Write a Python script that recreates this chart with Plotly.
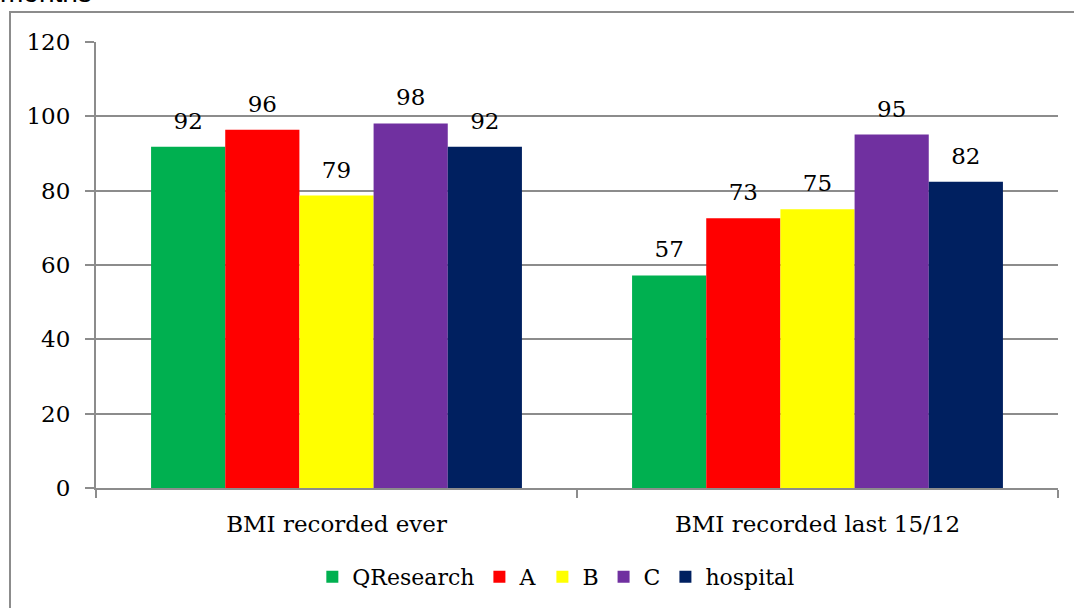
import plotly.graph_objects as go

categories = ["BMI recorded ever", "BMI recorded last 15/12"]
series_names = ["QResearch", "A", "B", "C", "hospital"]
qresearch = [91.8, 57.2]
site_a = [96.4, 72.6]
site_b = [78.7, 75.0]
site_c = [98.1, 95.1]
hospital = [91.8, 82.4]
colors = ["#00B050", "#FF0000", "#FFFF00", "#7030A0", "#002060"]
y_ticks = [0, 20, 40, 60, 80, 100, 120]

serif = "DejaVu Serif, Liberation Serif, serif"
grey = "#8C8C8C"

fig = go.Figure()
for name, vals, col in zip(series_names, [qresearch, site_a, site_b, site_c, hospital], colors):
    fig.add_trace(go.Bar(
        x=categories, y=vals, name=name,
        marker_color=col, marker_line_width=0,
        offsetgroup=name,
    ))
    # value labels, lifted a little above the bar tops via an invisible marker
    fig.add_trace(go.Scatter(
        x=categories, y=vals, mode="markers+text",
        marker=dict(size=18, color="rgba(0,0,0,0)"),
        text=[f"{v:.0f}" for v in vals], textposition="top center",
        textfont=dict(family=serif, size=23, color="black"),
        offsetgroup=name, showlegend=False, hoverinfo="skip", cliponaxis=False,
    ))

# outer chart frame (cut off at right/bottom like the source)
fig.add_shape(type="rect", xref="paper", yref="paper",
              x0=(10 - 96) / 962, x1=1.2, y0=-0.4, y1=(488 - 12) / 446,
              line=dict(color=grey, width=2), layer="below")

fig.add_annotation(text="months", xref="paper", yref="paper",
                   x=(-2 - 96) / 962, y=(488 - 10) / 446,
                   xanchor="left", yanchor="bottom", showarrow=False,
                   font=dict(family="Liberation Sans, Arial, sans-serif", size=28, color="black"))

fig.update_layout(
    width=1074, height=608,
    margin=dict(l=96, r=16, t=42, b=120),
    paper_bgcolor="white", plot_bgcolor="white",
    barmode="group", bargap=0.229, bargroupgap=0,
    scattermode="group", scattergap=0.229,
    font=dict(family=serif, color="black"),
    legend=dict(orientation="h", x=0.478, xanchor="center",
                yref="container", y=(608 - 577) / 608, yanchor="middle",
                font=dict(family=serif, size=22, color="black")),
    xaxis=dict(
        showline=True, linecolor=grey, linewidth=2,
        ticks="outside", tickson="boundaries", ticklen=8, tickcolor=grey, tickwidth=2,
        tickfont=dict(family=serif, size=23, color="black"),
        ticklabelstandoff=14,
    ),
    yaxis=dict(
        range=[0, 120], tickvals=y_ticks,
        showline=True, linecolor=grey, linewidth=2,
        showgrid=True, gridcolor=grey, gridwidth=1.5,
        ticks="outside", ticklen=9, tickcolor=grey, tickwidth=2,
        tickfont=dict(family=serif, size=23, color="black"),
        ticklabelstandoff=10, zeroline=False,
    ),
)

fig.write_html("out.html", config={"displayModeBar": False},
               post_script="document.body.style.margin='0';")
